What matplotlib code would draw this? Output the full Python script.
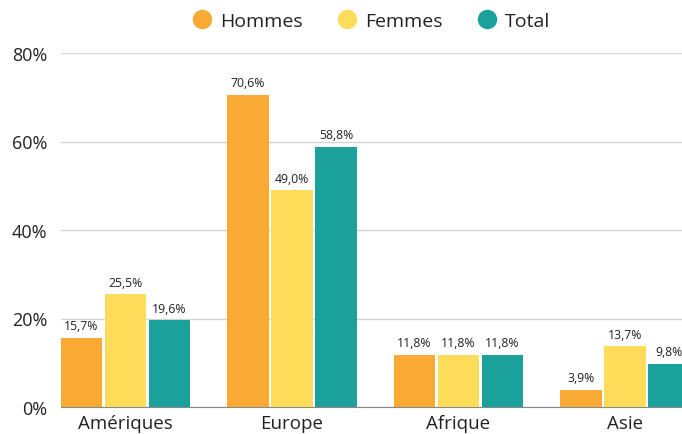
import matplotlib
matplotlib.use("Agg")
import matplotlib.pyplot as plt
from matplotlib.lines import Line2D
import numpy as np

regions = ["Amériques", "Europe", "Afrique", "Asie"]
hommes = [15.7, 70.6, 11.8, 3.9]
femmes = [25.5, 49.0, 11.8, 13.7]
total = [19.6, 58.8, 11.8, 9.8]
series_names = ["Hommes", "Femmes", "Total"]
colors = ["#F8AA35", "#FFDD5A", "#1AA19B"]

plt.rcParams["font.family"] = ["Open Sans", "DejaVu Sans"]
text_color = "#222222"

fig = plt.figure(figsize=(6.82, 4.35), dpi=100)
ax = fig.add_axes([61 / 682, 27 / 435, 1 - 61 / 682, (408 - 54) / 435])

x = np.arange(len(regions))
width = 0.25
step = 0.264
for i, (vals, col) in enumerate(zip([hommes, femmes, total], colors)):
    pos = x + (i - 1) * step
    bars = ax.bar(pos, vals, width=width, color=col, zorder=3)
    for b, v in zip(bars, vals):
        ax.text(b.get_x() + b.get_width() / 2, v + 1.2, f"{v:.1f}%".replace(".", ","),
                ha="center", va="bottom", fontsize=8.8, color=text_color)

ax.set_xlim(-0.387, 3.342)
ax.set_ylim(0, 80)
ax.set_yticks([0, 20, 40, 60, 80])
ax.set_yticklabels([f"{t}%" for t in [0, 20, 40, 60, 80]], fontsize=13, color=text_color)
ax.set_xticks(x)
ax.set_xticklabels(regions, fontsize=13.5, color=text_color)
ax.tick_params(axis="both", length=0)
ax.tick_params(axis="y", pad=10)
ax.tick_params(axis="x", pad=5)
ax.grid(axis="y", color="#d4d4d4", linewidth=1, zorder=0)
for s in ["top", "right", "left"]:
    ax.spines[s].set_visible(False)
ax.spines["bottom"].set_color("#888888")
ax.spines["bottom"].set_zorder(4)

handles = [Line2D([], [], marker="o", linestyle="", markersize=13, color=c) for c in colors]
fig.legend(handles, series_names, loc="upper center", bbox_to_anchor=(0.543, 1.01), ncol=3,
           frameon=False, fontsize=14, handlelength=1.2, handletextpad=0.35,
           columnspacing=1.65, labelcolor=text_color)

fig.savefig("out.png", dpi=100)
